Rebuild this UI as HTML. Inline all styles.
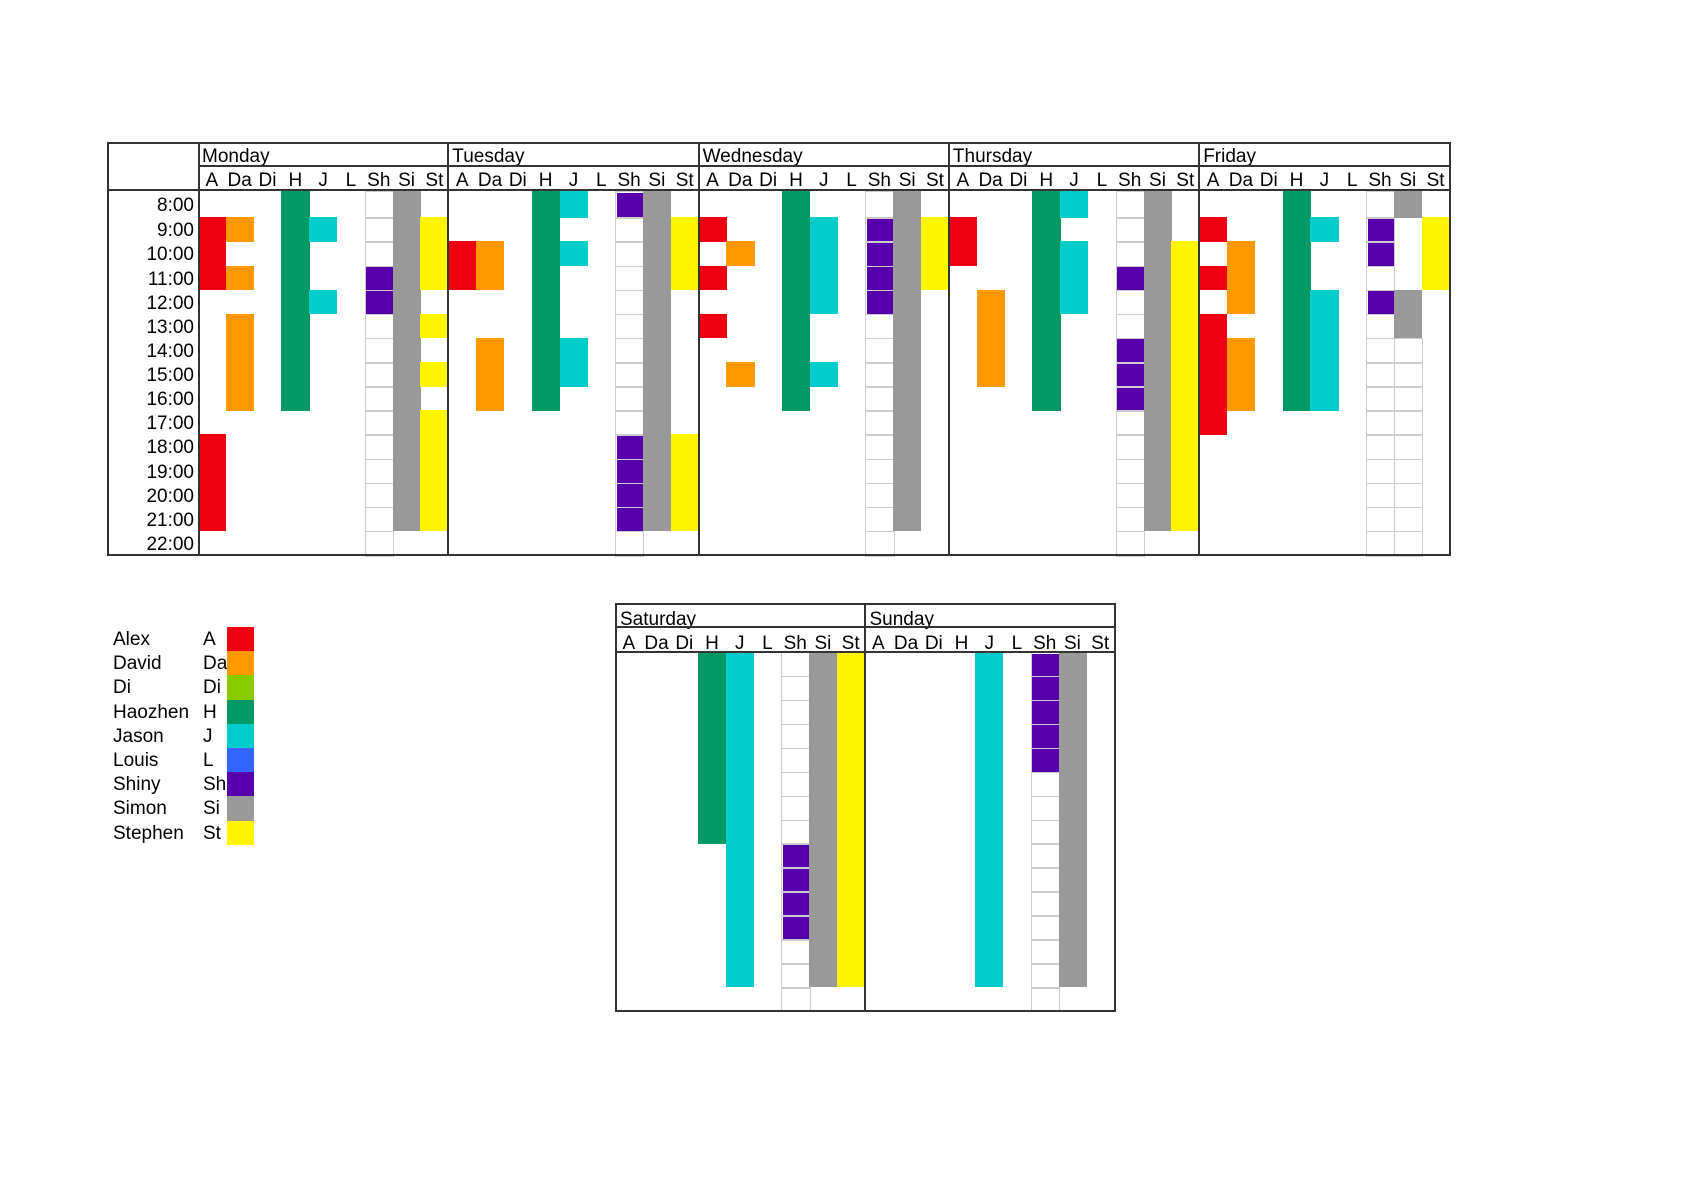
<!DOCTYPE html>
<html><head><meta charset="utf-8"><style>
body{margin:0;width:1684px;height:1190px;background:#fff;position:relative;overflow:hidden;font-family:"Liberation Sans",sans-serif;color:#000}
.a{position:absolute;box-sizing:border-box}
.t{position:absolute;font-size:19px;line-height:19px;white-space:nowrap}
</style></head><body>
<script>
var C={A:'#ee0011',Da:'#ff9900',Di:'#88cc00',H:'#009966',J:'#00cccc',L:'#3366ff',Sh:'#5500aa',Si:'#999999',St:'#fff500'};
var cols=['A','Da','Di','H','J','L','Sh','Si','St'];
var out='';
function box(x,y,w,h,st){out+='<div class="a" style="left:'+x+'px;top:'+y+'px;width:'+w+'px;height:'+h+'px;'+st+'"></div>';}
function txt(x,y,s,al){out+='<div class="t" style="'+(al=='r'?'right:'+(1684-x)+'px':al=='c'?'left:'+(x-20)+'px;width:40px;text-align:center':'left:'+x+'px')+';top:'+y+'px">'+s+'</div>';}
function rng(a){var r=[];a.forEach(function(v){if(Array.isArray(v)){for(var i=v[0];i<=v[1];i++)r.push(i);}else r.push(v);});return r;}
function mainRow(i){var t=i==0?191:217.3+(i-1)*24.13;var b=217.3+i*24.13;return [t,b];}
function wkRow(i){return [652+i*23.93,652+(i+1)*23.93];}
function drawDay(x0,cw,rowf,d){
  (d.grid||[]).forEach(function(g){var c=g[0];rng([g[1]]).forEach(function(i){var r=rowf(i);box(x0+c*cw,r[0],cw+1.5,r[1]-r[0]+1.5,'border:1.5px solid #cccccc');});});
  cols.forEach(function(k,c){if(!d[k])return;rng(d[k]).forEach(function(i){var r=rowf(i);
    var inset=(d.grid||[]).some(function(g){return g[0]==c&&i>=g[1][0]&&i<=g[1][1];});
    if(inset)box(x0+c*cw+1.5,r[0]+1.5,cw-1.5,r[1]-r[0]-1.5,'background:'+C[k]);
    else box(x0+c*cw,r[0],cw+0.4,r[1]-r[0]+0.4,'background:'+C[k]);});});
}
var days=[
 ['Monday',{A:[[1,3],[10,13]],Da:[1,3,[5,8]],H:[[0,8]],J:[1,4],Sh:[[3,4]],Si:[[0,13]],St:[[1,3],5,7,[9,13]],grid:[[6,[0,14]]]}],
 ['Tuesday',{A:[[2,3]],Da:[[2,3],[6,8]],H:[[0,8]],J:[0,2,[6,7]],Sh:[0,[10,13]],Si:[[0,13]],St:[[1,3],[10,13]],grid:[[6,[0,14]]]}],
 ['Wednesday',{A:[1,3,5],Da:[2,7],H:[[0,8]],J:[[1,4],7],Sh:[[1,4]],Si:[[0,13]],St:[[1,3]],grid:[[6,[0,14]]]}],
 ['Thursday',{A:[[1,2]],Da:[[4,7]],H:[[0,8]],J:[0,[2,4]],Sh:[3,[6,8]],Si:[[0,13]],St:[[2,13]],grid:[[6,[0,14]]]}],
 ['Friday',{A:[1,3,[5,9]],Da:[[2,4],[6,8]],H:[[0,8]],J:[1,[4,8]],Sh:[[1,2],4],Si:[0,[4,5]],St:[[1,3]],grid:[[6,[0,14]],[7,[6,14]]]}]
];
var dw=250.3,cw=dw/9,X0=198;
var R=X0+5*dw;
days.forEach(function(d,j){var x=X0+j*dw;drawDay(x,cw,mainRow,d[1]);txt(x+4,147,d[0]);
 cols.forEach(function(k,c){txt(x+c*cw+cw/2,171,k,'c');});});
for(var i=0;i<15;i++){var r=mainRow(i);txt(194,r[0]+(i==0?5:4),(8+i)+':00','r');}
box(107,142,R-107+1,414,'border:2px solid #333');
box(X0,142,2,414,'background:#333');
for(var j=1;j<5;j++)box(X0+j*dw-1,142,2,414,'background:#333');
box(X0,165,R-X0,2,'background:#333');
box(107,189,R-107,2,'background:#333');
var wk=[['Saturday',{H:[[0,7]],J:[[0,13]],Sh:[[8,11]],Si:[[0,13]],St:[[0,13]],grid:[[6,[0,14]]]}],
 ['Sunday',{J:[[0,13]],Sh:[[0,4]],Si:[[0,13]],grid:[[6,[0,14]]]}]];
var wdw=249.5,wcw=wdw/9,W0=615;
wk.forEach(function(d,j){var x=W0+j*wdw;drawDay(x,wcw,wkRow,d[1]);txt(x+5,610,d[0]);
 cols.forEach(function(k,c){txt(x+c*wcw+wcw/2,634,k,'c');});});
box(615,603,501,409,'border:2px solid #333');
box(864,603,2,409,'background:#333');
box(615,626,501,2,'background:#333');
box(615,651,501,2,'background:#333');
var names=['Alex','David','Di','Haozhen','Jason','Louis','Shiny','Simon','Stephen'];
names.forEach(function(n,i){var y=627+i*24.2;txt(113,y+3,n);txt(203,y+3,cols[i]);box(227,y,27,24.4,'background:'+C[cols[i]]);});
document.write(out);
</script>
</body></html>
